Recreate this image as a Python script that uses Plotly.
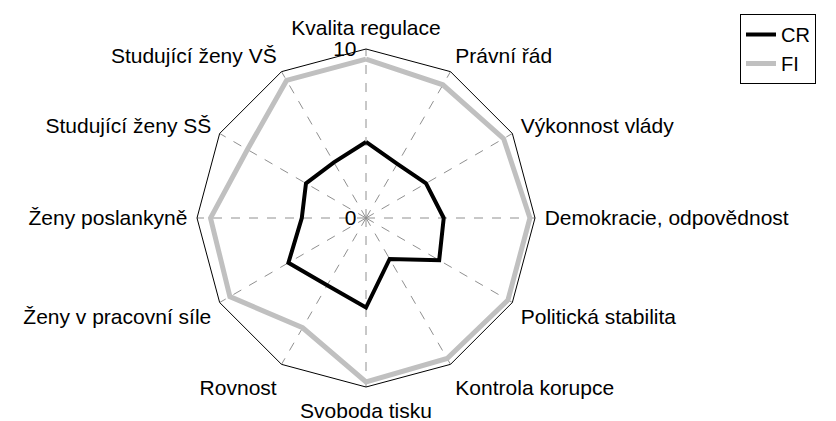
import plotly.graph_objects as go

categories = ["Kvalita regulace", "Právní řád", "Výkonnost vlády", "Demokracie, odpovědnost",
              "Politická stabilita", "Kontrola korupce", "Svoboda tisku", "Rovnost",
              "Ženy v pracovní síle", "Ženy poslankyně", "Studující ženy SŠ", "Studující ženy VŠ"]
cr_values = [4.5, 3.7, 4.1, 4.6, 5.0, 2.8, 5.3, 4.6, 5.3, 3.8, 4.1, 3.8]
fi_values = [9.4, 9.1, 9.4, 9.7, 9.7, 9.6, 9.7, 7.5, 9.3, 9.2, 8.1, 9.4]
radial_ticks = [0, 10]

FONT = "Liberation Sans, Arial, sans-serif"

fig = go.Figure()
fig.add_trace(go.Scatterpolar(
    r=cr_values + cr_values[:1], theta=categories + categories[:1],
    mode="lines", name="CR", line=dict(color="black", width=4)))
fig.add_trace(go.Scatterpolar(
    r=fi_values + fi_values[:1], theta=categories + categories[:1],
    mode="lines", name="FI", line=dict(color="#c0c0c0", width=5)))

W, H = 836, 421
OFF = 8  # page body margin
cx, cy, R = 366 - OFF, 218 - OFF, 169
PAD = "\u00a0"
fig.update_layout(
    width=W, height=H,
    margin=dict(l=0, r=0, t=0, b=0),
    paper_bgcolor="white", plot_bgcolor="white",
    font=dict(family=FONT, size=21, color="black"),
    polar=dict(
        domain=dict(x=[(cx - R) / W, (cx + R) / W], y=[(H - cy - R) / H, (H - cy + R) / H]),
        gridshape="linear",
        bgcolor="white",
        radialaxis=dict(range=[0, 10], tickvals=radial_ticks,
                        ticktext=[str(v) + PAD for v in radial_ticks],
                        showgrid=False, showline=False, ticks="", angle=90, side="counterclockwise",
                        tickangle=90, tickfont=dict(size=21)),
        angularaxis=dict(direction="clockwise", rotation=90, showline=True, linecolor="black",
                         linewidth=1, gridcolor="#909090", griddash="dash", gridwidth=1,
                         ticks="outside", ticklen=5, tickcolor="rgba(0,0,0,0)",
                         tickfont=dict(size=21)),
    ),
    legend=dict(x=(740 - OFF) / W, xanchor="left", y=1 - (14 - OFF) / H, yanchor="top",
                bordercolor="black", borderwidth=1, bgcolor="white",
                font=dict(size=20), tracegroupgap=0, itemwidth=30),
    showlegend=True,
)
fig.write_html("out.html")
